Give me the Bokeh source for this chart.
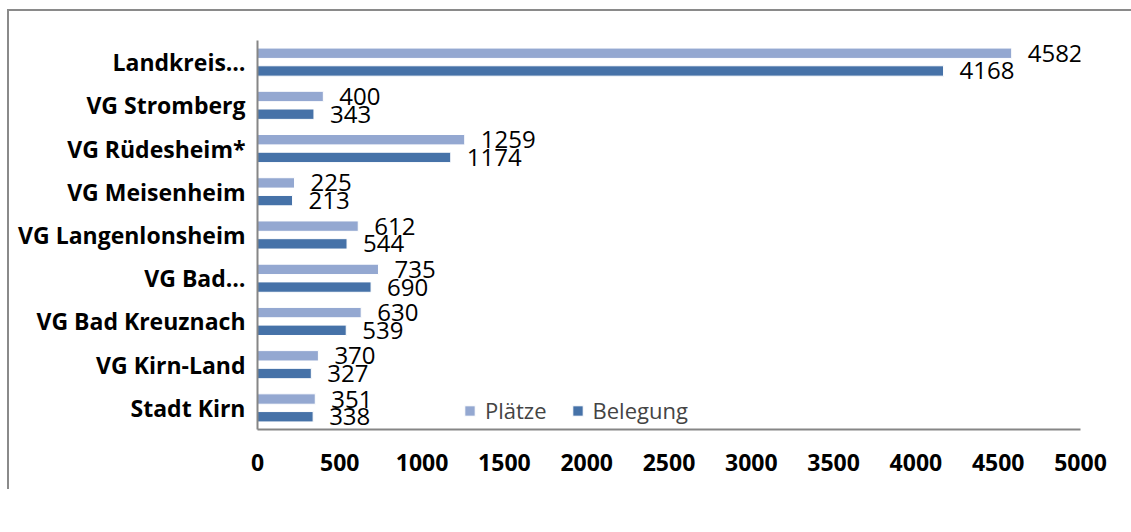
from bokeh.plotting import figure
from bokeh.models import ColumnDataSource, Legend, LegendItem, FactorRange, LabelSet
from bokeh.core.properties import value
from bokeh.transform import dodge
from bokeh.embed import file_html
from bokeh.resources import INLINE

categories = ["Landkreis…", "VG Stromberg", "VG Rüdesheim*", "VG Meisenheim",
              "VG Langenlonsheim", "VG Bad…", "VG Bad Kreuznach", "VG Kirn-Land", "Stadt Kirn"]
plaetze = [4582, 400, 1259, 225, 612, 735, 630, 370, 351]
belegung = [4168, 343, 1174, 213, 544, 690, 539, 327, 338]
x_ticks = [0, 500, 1000, 1500, 2000, 2500, 3000, 3500, 4000, 4500, 5000]

C1 = "#94A8D1"
C2 = "#4672A8"
FONT = "Open Sans"

src = ColumnDataSource(dict(cat=categories, p=plaetze, b=belegung,
                            pl=[str(v) for v in plaetze], bl=[str(v) for v in belegung]))

p = figure(frame_width=823, frame_height=389,
           output_backend="svg", toolbar_location=None,
           y_range=FactorRange(*list(reversed(categories))), x_range=(0, 5000),
           min_border_left=248, min_border_right=51, min_border_top=29, min_border_bottom=60)
p.styles = {"border-left": "2px solid #8a8a8a", "border-top": "2px solid #8a8a8a",
            "transform": "translate(7px, 9px)"}
p.outline_line_color = None
p.xgrid.grid_line_color = None
p.ygrid.grid_line_color = None

r1 = p.hbar(y=dodge("cat", 0.205, range=p.y_range), right="p", height=0.24, left=0,
            source=src, fill_color=C1, line_color="white", line_width=1)
r2 = p.hbar(y=dodge("cat", -0.205, range=p.y_range), right="b", height=0.24, left=0,
            source=src, fill_color=C2, line_color="white", line_width=1)

for col, lab, off in (("p", "pl", 0.205), ("b", "bl", -0.205)):
    ls = LabelSet(x=col, y=dodge("cat", off, range=p.y_range), text=lab, source=src,
                  x_offset=16, text_baseline="middle", text_font=value(FONT),
                  text_font_size="24px", text_color="black")
    p.add_layout(ls)

p.xaxis.ticker = x_ticks
p.xaxis.major_tick_line_color = None
p.xaxis.minor_tick_line_color = None
p.xaxis.axis_line_color = "#868686"
p.xaxis.axis_line_width = 2
p.xaxis.major_label_text_font = FONT
p.xaxis.major_label_text_font_style = "bold"
p.xaxis.major_label_text_font_size = "23px"
p.xaxis.major_label_text_color = "black"
p.xaxis.major_label_standoff = 18

p.yaxis.major_tick_line_color = None
p.yaxis.axis_line_color = "#868686"
p.yaxis.axis_line_width = 2
p.yaxis.major_label_text_font = FONT
p.yaxis.major_label_text_font_style = "bold"
p.yaxis.major_label_text_font_size = "23px"
p.yaxis.major_label_text_color = "black"
p.yaxis.major_label_standoff = 6

legend = Legend(items=[LegendItem(label="Plätze", renderers=[r1]),
                       LegendItem(label="Belegung", renderers=[r2])],
                orientation="horizontal", location=(206, 4),
                border_line_color=None, background_fill_alpha=0,
                padding=0, margin=0, spacing=24, label_standoff=9,
                glyph_width=13, glyph_height=13, label_height=20,
                label_text_font=FONT, label_text_font_size="22px")
p.add_layout(legend, "center")

open("out.html", "w").write(file_html(p, INLINE))
